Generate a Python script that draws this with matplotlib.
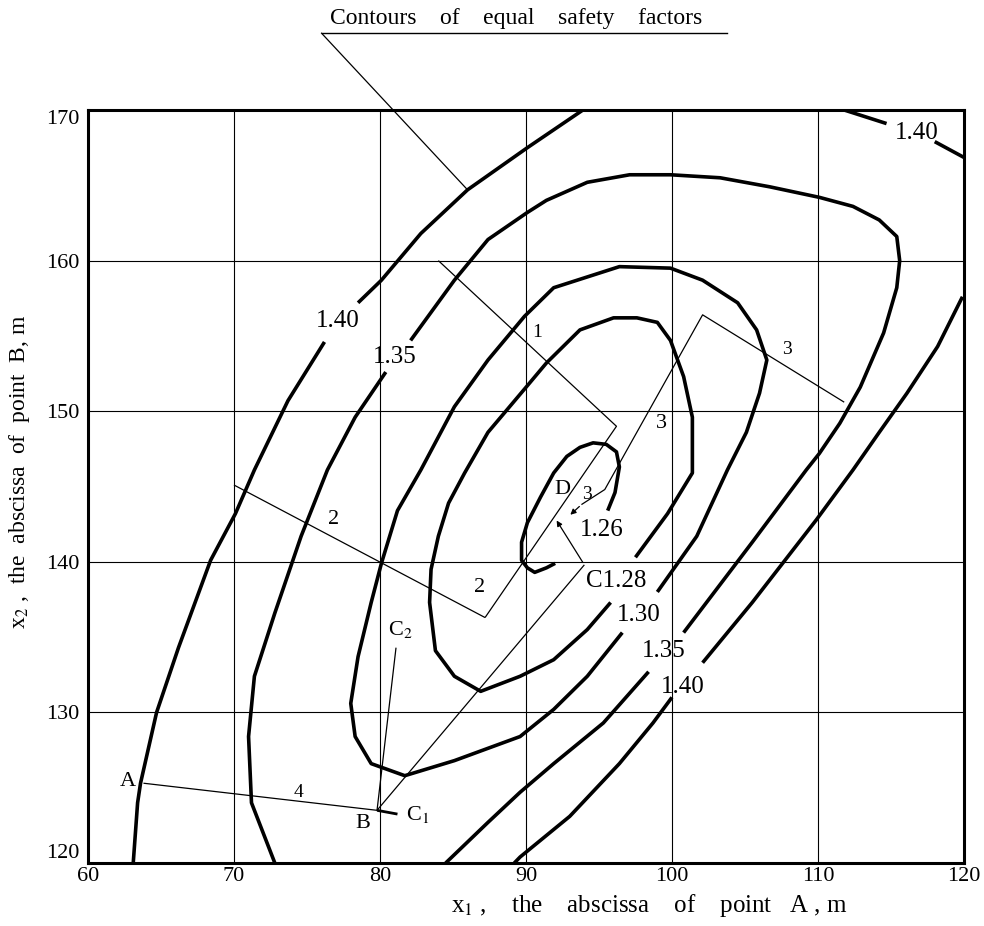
import numpy as np
import matplotlib.pyplot as plt

plt.rcParams['font.family'] = ['Liberation Serif', 'DejaVu Serif']
plt.rcParams['mathtext.fontset'] = 'stix'

nan = np.nan

# contours of equal safety factor (x1, x2); nan = gap for label
sf140_left = [(63.1, 120.0), (63.4, 124.0), (63.6, 125.3), (64.7, 130.0), (66.2, 134.3),
              (68.4, 140.1), (70.1, 143.2), (71.4, 146.1), (73.7, 150.7), (76.2, 154.6),
              (nan, nan),
              (78.5, 157.2), (80.1, 158.7), (82.8, 161.8), (86.0, 164.7), (90.1, 167.5),
              (93.9, 170.0)]
sf140_corner = [(111.8, 170.0), (114.7, 169.1), (nan, nan), (118.0, 167.9), (120.1, 166.8)]
sf140_right = [(119.9, 157.6), (118.2, 154.3), (116.1, 151.2), (114.2, 148.6), (112.4, 146.1),
               (109.9, 142.8), (105.5, 137.3), (102.1, 133.3),
               (nan, nan),
               (100.0, 131.0), (98.7, 129.3), (96.4, 126.6), (93.0, 123.1), (89.6, 120.4),
               (89.2, 120.0)]
sf135 = [(72.8, 120.0), (71.2, 124.0), (71.0, 128.4), (71.4, 132.4), (72.8, 136.6),
         (74.6, 141.7), (76.4, 146.1), (78.3, 149.6), (80.4, 152.6),
         (nan, nan),
         (82.1, 154.7), (85.1, 158.7), (87.4, 161.4), (90.1, 163.2), (91.4, 164.0),
         (94.2, 165.2), (97.1, 165.7), (99.9, 165.7), (103.3, 165.5), (106.7, 164.9),
         (110.1, 164.2), (112.4, 163.6), (114.2, 162.7), (115.4, 161.6), (115.6, 160.0),
         (115.4, 158.2), (114.5, 155.2), (112.9, 151.6), (111.5, 149.2), (110.1, 147.2),
         (109.2, 146.1), (105.5, 141.3), (100.8, 135.3),
         (nan, nan),
         (98.4, 132.7), (95.3, 129.3), (91.9, 126.6), (89.6, 124.7), (87.4, 122.7),
         (84.5, 120.0)]
sf130 = [(96.6, 135.3), (94.2, 132.4), (91.9, 130.2), (89.6, 128.4), (85.1, 126.8),
         (81.7, 125.8), (79.4, 126.6), (78.3, 128.4), (78.0, 130.6), (78.5, 133.7),
         (79.4, 137.3), (80.1, 139.9), (81.2, 143.4), (82.8, 146.1), (85.1, 150.3),
         (87.4, 153.4), (89.9, 156.3), (91.9, 158.2), (96.4, 159.6), (99.9, 159.5),
         (102.1, 158.7), (104.5, 157.2), (105.8, 155.4), (106.5, 153.4), (106.0, 151.2),
         (105.1, 148.6), (103.8, 146.1), (101.7, 141.7), (99.0, 138.0)]
sf128 = [(95.8, 137.3), (94.2, 135.5), (91.9, 133.5), (89.6, 132.4), (86.9, 131.4),
         (85.1, 132.4), (83.8, 134.1), (83.4, 137.3), (83.5, 139.5), (84.0, 141.7),
         (84.7, 143.9), (85.8, 145.9), (87.4, 148.6), (90.1, 151.7), (91.4, 153.2),
         (93.7, 155.4), (96.0, 156.2), (97.6, 156.2), (99.0, 155.9), (99.9, 154.7),
         (100.8, 152.3), (101.4, 149.6), (101.4, 145.9), (99.7, 143.2), (97.5, 140.3)]
sf126 = [(95.6, 143.4), (96.1, 144.6), (96.4, 146.3), (96.2, 147.3), (95.5, 147.8),
         (94.6, 147.9), (93.7, 147.6), (92.8, 147.0), (91.9, 145.9), (91.0, 144.3),
         (90.1, 142.6), (89.7, 141.3), (89.7, 140.1), (90.1, 139.6), (90.6, 139.3),
         (91.4, 139.6), (92.0, 139.9)]

# search paths
point_A = (63.8, 125.3)
point_B = (79.8, 123.5)
point_C = (94.0, 139.8)
path_AB = [point_A, point_B]
path_1 = [(84.0, 160.0), (96.2, 149.0), (87.2, 136.3)]
path_2 = [(70.0, 145.1), (87.2, 136.3)]
path_3 = [(111.8, 150.6), (102.1, 156.4), (95.4, 144.8), (93.8, 143.8)]
path_3_tip = (92.9, 143.0)
path_BC = [point_B, point_C]
path_C_tip = (92.0, 142.9)
path_BC2 = [point_B, (81.1, 134.3)]
path_BC1 = [point_B, (81.2, 123.25)]
leader = [(76.0, 175.1), (86.0, 164.7)]
underline = [(76.0, 175.1), (103.8, 175.1)]

xticks = [60, 70, 80, 90, 100, 110, 120]
yticks = [120, 130, 140, 150, 160, 170]

fig = plt.figure(figsize=(9.84, 9.26), dpi=100)
ax = fig.add_axes([0.0894, 0.068, 0.8902, 0.8132])
ax.set_xlim(60, 120)
ax.set_ylim(120, 170)
ax.set_xticks(xticks)
ax.set_yticks(yticks)
ax.grid(True, color='black', lw=0.8)
ax.tick_params(length=0, labelsize=16)
ax.tick_params(axis='x', pad=3)
ax.tick_params(axis='y', pad=6)
for s in ax.spines.values():
    s.set_linewidth(2.2)
ylabs = ax.get_yticklabels()
ylabs[0].set_va('bottom')
ylabs[-1].set_va('top')


def draw(pts, **kw):
    p = np.array(pts, dtype=float)
    ax.plot(p[:, 0], p[:, 1], color='black', solid_joinstyle='round',
            solid_capstyle='butt', **kw)


for c in [sf140_left, sf140_corner, sf140_right, sf135, sf130, sf128, sf126]:
    draw(c, lw=2.6)

for p in [path_AB, path_1, path_2, path_3, path_BC, path_BC2]:
    draw(p, lw=0.9)
draw(path_BC1, lw=2.0)
ax.annotate('', xy=path_3_tip, xytext=path_3[-1],
            arrowprops=dict(arrowstyle='-|>', lw=0.9, color='black', mutation_scale=8))
ax.annotate('', xy=path_C_tip, xytext=point_C,
            arrowprops=dict(arrowstyle='-|>', lw=0.9, color='black', mutation_scale=8))

pl = np.array(leader)
ax.plot(pl[:, 0], pl[:, 1], color='black', lw=0.9, clip_on=False)
pu = np.array(underline)
ax.plot(pu[:, 0], pu[:, 1], color='black', lw=1.0, clip_on=False)

# contour labels
lab = dict(fontsize=18, ha='center', va='center')
ax.text(77.1, 156.0, '1.40', **lab)
ax.text(81.0, 153.6, '1.35', **lab)
ax.text(116.8, 168.5, '1.40', **lab)
ax.text(95.2, 142.1, '1.26', **lab)
ax.text(96.2, 138.7, 'C1.28', **lab)
ax.text(97.7, 136.5, '1.30', **lab)
ax.text(99.45, 134.1, '1.35', **lab)
ax.text(100.75, 131.7, '1.40', **lab)

# path labels
pt = dict(fontsize=16, ha='center', va='center')
ax.text(62.7, 125.4, 'A', **pt)
ax.text(78.8, 122.6, 'B', **pt)
ax.text(82.6, 123.2, r'C$_{\mathit{1}}$', **pt)
ax.text(81.4, 135.5, r'C$_{2}$', **pt)
ax.text(92.5, 144.8, 'D', **pt)
pn = dict(fontsize=14, ha='center', va='center')
ax.text(74.4, 124.7, '4', **pn)
ax.text(76.8, 142.8, '2', **pt)
ax.text(86.85, 138.3, '2', **pt)
ax.text(90.75, 155.2, '1', **pn)
ax.text(107.9, 154.1, '3', **pn)
ax.text(99.3, 149.2, '3', **pt)
ax.text(94.2, 144.5, '3', **pn)

fig.text(0.525, 0.9795, 'Contours    of    equal    safety    factors', fontsize=17,
         ha='center', va='center')
fig.text(0.66, 0.022, r'x$_{1}$ ,    the    abscissa    of    point   A , m',
         fontsize=18, ha='center', va='center')
fig.text(0.02, 1 - 472 / 926, r'x$_{2}$ ,  the  abscissa  of  point  B, m',
         fontsize=17, ha='center', va='center', rotation=90)

fig.savefig('out.png', dpi=100)
